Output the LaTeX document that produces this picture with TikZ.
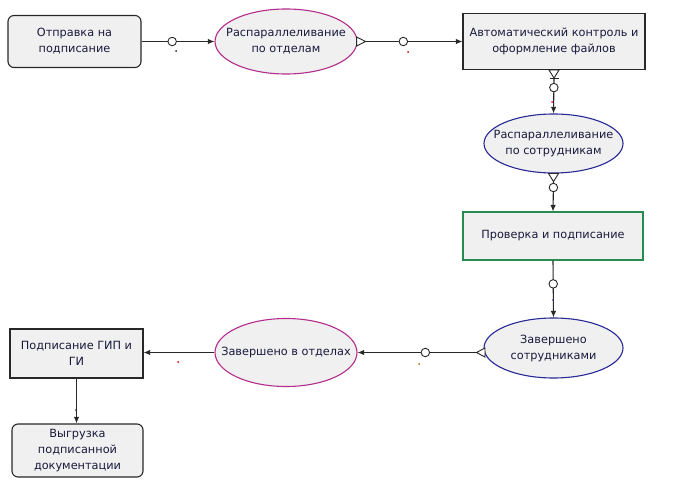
\documentclass[tikz,border=0pt]{standalone}
\usepackage{fontspec}
\setmainfont{DejaVu Sans}
\usetikzlibrary{shapes.geometric,arrows.meta,calc}
\definecolor{boxfill}{RGB}{240,240,240}
\definecolor{txt}{RGB}{25,25,60}
\definecolor{mag}{RGB}{180,45,140}
\definecolor{blu}{RGB}{40,40,150}
\definecolor{grn}{RGB}{40,140,80}
\definecolor{ln}{RGB}{40,40,40}
\begin{document}
\begin{tikzpicture}[x=1pt,y=-1pt,
  base/.style={fill=boxfill,line width=1.1pt,inner sep=0pt,align=center,text=txt,
    font=\fontsize{11.3}{16}\selectfont},
  etxt/.style={inner sep=0pt,align=center,text=txt,font=\fontsize{11.3}{16}\selectfont},
  rbox/.style={base,draw=ln,rectangle,rounded corners=6pt},
  sbox/.style={base,draw=ln,rectangle},
  gbox/.style={base,draw=grn,rectangle},
  mell/.style={base,draw=mag,ellipse},
  bell/.style={base,draw=blu,ellipse},
  conn/.style={draw=ln,line width=1.1pt,-{Latex[length=6.5pt,width=5.5pt]}},
  circ/.style={circle,draw=ln,fill=white,line width=0.9pt,minimum size=8.5pt,inner sep=0pt},
  mk/.style={draw=ln,fill=white,line width=0.9pt},
  tdot/.style={circle,inner sep=0pt,minimum size=2pt}
]
\useasboundingbox[fill=white] (0,0) rectangle (700,494);

% nodes
\node[rbox,minimum width=133pt,minimum height=52pt] (n1) at (74.5,41.5) {Отправка на\\подписание};
\node[mell,minimum width=142pt,minimum height=65pt] (n2) at (286,41.5) {};
\node[etxt] (t2) at (n2.center) {Распараллеливание\\по отделам};
\node[sbox,minimum width=182pt,minimum height=56pt] (n3) at (554,41.5) {Автоматический контроль и\\оформление файлов};
\node[bell,minimum width=139pt,minimum height=59pt] (n4) at (553.5,143.5) {};
\node[etxt] (t4) at (n4.center) {Распараллеливание\\по сотрудникам};
\node[gbox,minimum width=180pt,minimum height=48pt] (n5) at (553,236) {Проверка и подписание};
\node[bell,minimum width=139pt,minimum height=60pt] (n6) at (553.5,348) {};
\node[etxt] (t6) at (n6.center) {Завершено\\сотрудниками};
\node[mell,minimum width=142pt,minimum height=68pt] (n7) at (286,352.5) {};
\node[etxt] (t7) at (n7.center) {Завершено в отделах};
\node[sbox,minimum width=133pt,minimum height=49pt] (n8) at (76.5,353.5) {Подписание ГИП и\\ГИ};
\node[rbox,minimum width=131pt,minimum height=53pt] (n9) at (77.5,450.5) {Выгрузка\\подписанной\\документации};

% 1 -> 2
\draw[conn] (n1.east) -- node[circ,pos=0.42] (c12) {} (n2.west);
\node[tdot,fill=ln] (d12) at (176,51) {};

% 2 -> 3
\coordinate (a23) at ($(n2.east)+(8,0)$);
\draw[mk] ($(n2.east)+(-1,-4.5)$) -- (a23) -- ($(n2.east)+(-1,4.5)$) -- cycle;
\draw[conn] (a23) -- node[circ,pos=0.39] (c23) {} (n3.west);
\node[tdot,fill=red!80!black] (d23) at (408,52) {};

% 3 -> 4
\coordinate (a34) at ($(n3.south)+(0,8)$);
\draw[mk] ($(n3.south)+(-5,0)$) -- (a34) -- ($(n3.south)+(5,0)$) -- cycle;
\draw[draw=ln,line width=0.9pt] ($(a34)+(-4.5,0)$) -- ($(a34)+(4.5,0)$);
\draw[conn] (a34) -- node[circ,pos=0.27] (c34) {} (n4.north);
\node[tdot,fill=red!60!magenta] (d34) at (552,102) {};

% 4 -> 5
\coordinate (a45) at ($(n4.south)+(0,8)$);
\draw[mk] ($(n4.south)+(-5,0)$) -- (a45) -- ($(n4.south)+(5,0)$) -- cycle;
\draw[conn] (a45) -- node[circ,pos=0.2] (c45) {} (n5.north);

% 5 -> 6
\draw[conn] (n5.south) -- node[circ,pos=0.41] (c56) {} (n6.north);
\node[tdot,fill=blu] (d56) at (553,300) {};

% 6 -> 7
\coordinate (b6) at ($(n6.west)+(1.5,4.5)$);
\coordinate (a67) at ($(b6)+(-8.5,0)$);
\draw[mk] ($(b6)+(0,-4.5)$) -- (a67) -- ($(b6)+(0,4.5)$) -- cycle;
\draw[conn] (a67) -- node[circ,pos=0.43] (c67) {} (n7.east |- a67);
\node[tdot,fill=orange!80!black] (d67) at (419,364) {};

% 7 -> 8
\draw[conn] (n7.west) -- (n8.east |- n7.west);
\node[tdot,fill=red!80!black] (d78) at (178,362) {};

% 8 -> 9
\draw[conn] (n8.south) -- (n9.north -| n8.south);
\node[tdot,fill=ln] (d89) at (76,410) {};
\end{tikzpicture}
\end{document}
